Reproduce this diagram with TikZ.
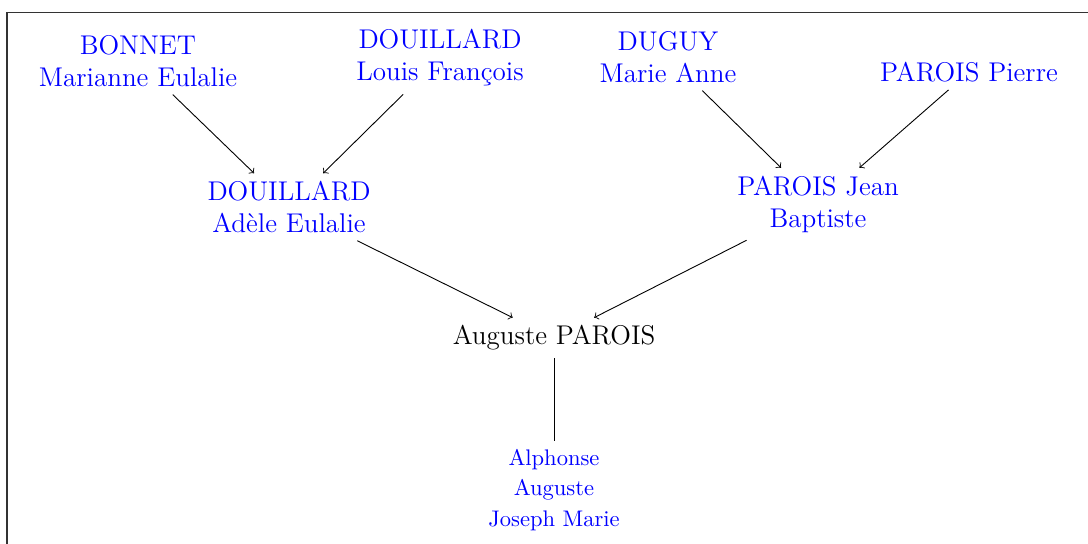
\documentclass[tikz,border=0pt]{standalone}
\usepackage{tikz}
\begin{document}
\begin{tikzpicture}[x=0.4435pt,y=-0.4435pt,
  person/.style={align=center,text=blue,font=\fontsize{12}{14.2}\selectfont},
  main/.style={align=center,text=black,font=\fontsize{12}{14.2}\selectfont},
  child/.style={align=center,text=blue,font=\fontsize{10}{13.7}\selectfont},
  link/.style={->,line width=0.4pt}]
\useasboundingbox (0,0) rectangle (1088,543);
\draw[line width=0.7pt,black!80] (7,12.5) rectangle (1110,570);
\node[person] (bonnet) at (138,61) {BONNET\\Marianne Eulalie};
\node[person] (louis) at (440,58) {DOUILLARD\\Louis François};
\node[person] (duguy) at (668,57) {DUGUY\\Marie Anne};
\node[person] (pierre) at (969,72) {PAROIS Pierre};
\node[person] (adele) at (289,207) {DOUILLARD\\Adèle Eulalie};
\node[person] (jean) at (818,204) {PAROIS Jean\\Baptiste};
\node[main] (auguste) at (554,338) {Auguste PAROIS};
\node[child] (alphonse) at (554,490) {Alphonse\\Auguste\\Joseph Marie};
\draw[link] (bonnet) -- (adele);
\draw[link] (louis) -- (adele);
\draw[link] (duguy) -- (jean);
\draw[link] (pierre) -- (jean);
\draw[link] (adele) -- (auguste);
\draw[link] (jean) -- (auguste);
\draw[line width=0.4pt] (auguste) -- (alphonse);
\end{tikzpicture}
\end{document}
